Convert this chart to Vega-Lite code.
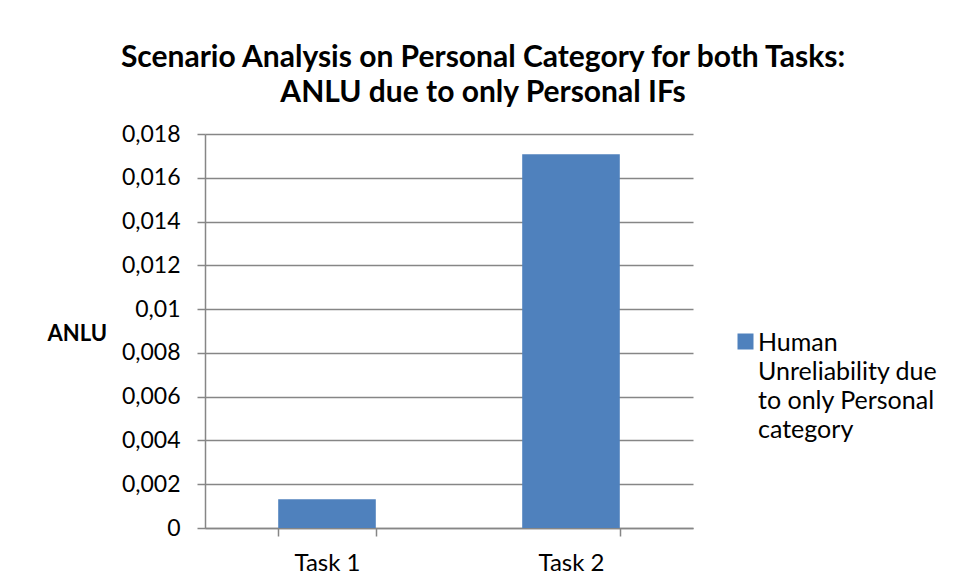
{
  "$schema": "https://vega.github.io/schema/vega-lite/v6.json",
  "autosize": "none",
  "width": 488,
  "height": 394,
  "padding": {"left": 205, "top": 134, "right": 264, "bottom": 51},
  "background": "white",
  "title": {
    "text": ["Scenario Analysis on Personal Category for both Tasks:", "ANLU due to only Personal IFs"],
    "font": "Lato",
    "fontSize": 30,
    "fontWeight": "bold",
    "color": "#000000",
    "anchor": "middle",
    "frame": "group",
    "dx": 34,
    "offset": 15,
    "lineHeight": 35
  },
  "data": {
    "values": [
      {"task": "Task 1", "series": "Human Unreliability due to only Personal category", "value": 0.00131},
      {"task": "Task 2", "series": "Human Unreliability due to only Personal category", "value": 0.01708}
    ]
  },
  "mark": {"type": "bar", "color": "#4F81BD"},
  "encoding": {
    "x": {
      "field": "task",
      "type": "nominal",
      "scale": {"paddingInner": 0.6, "paddingOuter": 0.3},
      "axis": {
        "title": null,
        "labelAngle": 0,
        "tickBand": "extent",
        "grid": false,
        "tickSize": 8,
        "labelPadding": 15,
        "labelFont": "Lato",
        "labelFontSize": 24,
        "labelColor": "#000000",
        "domainColor": "#868686",
        "tickColor": "#868686",
        "domainWidth": 1.5,
        "tickWidth": 1.5
      }
    },
    "y": {
      "field": "value",
      "type": "quantitative",
      "scale": {"domain": [0, 0.018], "nice": false},
      "axis": {
        "title": "ANLU",
        "titleAngle": 0,
        "titleX": -158,
        "titleY": 199,
        "titleAlign": "left",
        "titleBaseline": "middle",
        "titleFont": "Lato",
        "titleFontSize": 22,
        "titleFontWeight": "bold",
        "titleColor": "#000000",
        "values": [0, 0.002, 0.004, 0.006, 0.008, 0.01, 0.012, 0.014, 0.016, 0.018],
        "labelExpr": "replace(format(datum.value, '.3~f'), '.', ',')",
        "labelFont": "Lato",
        "labelFontSize": 23,
        "labelColor": "#000000",
        "labelPadding": 17,
        "tickSize": 8,
        "grid": true,
        "gridColor": "#868686",
        "gridWidth": 1.5,
        "domainColor": "#868686",
        "tickColor": "#868686",
        "domainWidth": 1.5,
        "tickWidth": 1.5
      }
    },
    "color": {
      "field": "series",
      "type": "nominal",
      "scale": {"range": ["#4F81BD"]},
      "legend": {
        "title": null,
        "orient": "none",
        "legendX": 528,
        "legendY": 195,
        "symbolType": "square",
        "symbolSize": 256,
        "symbolStrokeWidth": 0,
        "symbolOpacity": 1,
        "labelFont": "Lato",
        "labelFontSize": 25,
        "labelColor": "#000000",
        "labelOffset": 0,
        "labelLimit": 300,
        "labelBaseline": "top",
        "labelExpr": "['Human', 'Unreliability due', 'to only Personal', 'category']",
        "labelOverlap": false,
        "encode": {"labels": {"update": {"lineHeight": {"value": 29}, "dy": {"value": -11}}}}
      }
    }
  },
  "config": {
    "view": {"stroke": null},
    "axis": {"labelOverlap": false}
  }
}
